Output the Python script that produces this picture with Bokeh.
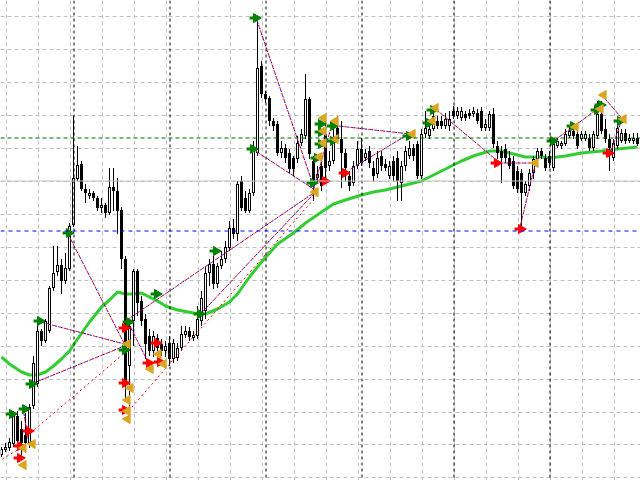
import numpy as np
from bokeh.plotting import figure
from bokeh.models import Range1d, Grid, FixedTicker, Span, ColumnDataSource
from bokeh.embed import file_html
from bokeh.resources import INLINE

# ---- hourly OHLC bars (index 0 = oldest bar) ----
opens = [1.1026, 1.1031, 1.1033, 1.1037, 1.1065, 1.1052, 1.1046, 1.1038, 1.1075, 1.1097,
         1.1150, 1.1140, 1.1150, 1.1193, 1.1209, 1.1216, 1.1200, 1.1212, 1.1256, 1.1302,
         1.1317, 1.1292, 1.1285, 1.1288, 1.1283, 1.1273, 1.1276, 1.1268, 1.1294, 1.1290,
         1.1271, 1.1222, 1.1115, 1.1160, 1.1210, 1.1180, 1.1162, 1.1145, 1.1130, 1.1143,
         1.1137, 1.1130, 1.1138, 1.1122, 1.1123, 1.1133, 1.1146, 1.1150, 1.1143, 1.1145,
         1.1160, 1.1170, 1.1208, 1.1217, 1.1197, 1.1215, 1.1222, 1.1233, 1.1253, 1.1247,
         1.1300, 1.1283, 1.1270, 1.1288, 1.1328, 1.1415, 1.1387, 1.1383, 1.1360, 1.1357,
         1.1328, 1.1333, 1.1328, 1.1323, 1.1322, 1.1338, 1.1345, 1.1382, 1.1320, 1.1303,
         1.1315, 1.1347, 1.1315, 1.1320, 1.1353, 1.1342, 1.1328, 1.1305, 1.1298, 1.1315,
         1.1332, 1.1323, 1.1330, 1.1313, 1.1307, 1.1325, 1.1317, 1.1305, 1.1320, 1.1323,
         1.1298, 1.1315, 1.1325, 1.1333, 1.1337, 1.1305, 1.1347, 1.1345, 1.1352, 1.1360,
         1.1360, 1.1355, 1.1355, 1.1370, 1.1365, 1.1363, 1.1367, 1.1368, 1.1367, 1.1368,
         1.1370, 1.1353, 1.1353, 1.1367, 1.1335, 1.1330, 1.1332, 1.1323, 1.1320, 1.1310,
         1.1308, 1.1288, 1.1295, 1.1308, 1.1322, 1.1330, 1.1323, 1.1325, 1.1313, 1.1335,
         1.1335, 1.1337, 1.1345, 1.1350, 1.1347, 1.1342, 1.1342, 1.1343, 1.1333, 1.1345,
         1.1367, 1.1352, 1.1342, 1.1323, 1.1335, 1.1340, 1.1348, 1.1340, 1.1340, 1.1343]
highs = [1.1034, 1.1038, 1.1043, 1.1070, 1.1070, 1.1060, 1.1068, 1.1077, 1.1125, 1.1160,
         1.1152, 1.1162, 1.1195, 1.1235, 1.1235, 1.1222, 1.1228, 1.1258, 1.1365, 1.1335,
         1.1320, 1.1297, 1.1292, 1.1290, 1.1285, 1.1283, 1.1278, 1.1313, 1.1313, 1.1303,
         1.1274, 1.1225, 1.1162, 1.1212, 1.1212, 1.1185, 1.1167, 1.1152, 1.1150, 1.1147,
         1.1142, 1.1140, 1.1145, 1.1142, 1.1138, 1.1155, 1.1155, 1.1154, 1.1150, 1.1175,
         1.1190, 1.1215, 1.1222, 1.1225, 1.1218, 1.1230, 1.1240, 1.1260, 1.1262, 1.1300,
         1.1305, 1.1290, 1.1292, 1.1340, 1.1465, 1.1420, 1.1390, 1.1385, 1.1363, 1.1360,
         1.1340, 1.1337, 1.1332, 1.1325, 1.1345, 1.1352, 1.1407, 1.1384, 1.1325, 1.1315,
         1.1322, 1.1360, 1.1330, 1.1352, 1.1365, 1.1360, 1.1332, 1.1310, 1.1320, 1.1340,
         1.1343, 1.1332, 1.1335, 1.1320, 1.1330, 1.1330, 1.1322, 1.1320, 1.1325, 1.1330,
         1.1320, 1.1335, 1.1340, 1.1337, 1.1340, 1.1352, 1.1370, 1.1358, 1.1372, 1.1365,
         1.1365, 1.1368, 1.1370, 1.1375, 1.1374, 1.1374, 1.1370, 1.1372, 1.1374, 1.1372,
         1.1374, 1.1362, 1.1370, 1.1373, 1.1340, 1.1335, 1.1337, 1.1330, 1.1325, 1.1315,
         1.1312, 1.1300, 1.1312, 1.1325, 1.1333, 1.1333, 1.1327, 1.1330, 1.1340, 1.1343,
         1.1340, 1.1352, 1.1354, 1.1353, 1.1352, 1.1350, 1.1350, 1.1347, 1.1350, 1.1380,
         1.1380, 1.1362, 1.1347, 1.1342, 1.1362, 1.1352, 1.1352, 1.1347, 1.1348, 1.1348]
lows = [1.1024, 1.1029, 1.1030, 1.1034, 1.1035, 1.1022, 1.1028, 1.1033, 1.1072, 1.1094,
        1.1135, 1.1138, 1.1148, 1.1190, 1.1205, 1.1187, 1.1197, 1.1210, 1.1254, 1.1300,
        1.1290, 1.1278, 1.1282, 1.1280, 1.1270, 1.1268, 1.1263, 1.1266, 1.1270, 1.1247,
        1.1212, 1.1080, 1.1060, 1.1135, 1.1165, 1.1155, 1.1122, 1.1125, 1.1124, 1.1128,
        1.1125, 1.1124, 1.1115, 1.1118, 1.1120, 1.1130, 1.1143, 1.1140, 1.1140, 1.1142,
        1.1155, 1.1162, 1.1195, 1.1192, 1.1193, 1.1212, 1.1218, 1.1230, 1.1242, 1.1240,
        1.1270, 1.1268, 1.1268, 1.1285, 1.1325, 1.1383, 1.1378, 1.1355, 1.1350, 1.1325,
        1.1323, 1.1318, 1.1308, 1.1305, 1.1318, 1.1335, 1.1342, 1.1322, 1.1280, 1.1298,
        1.1290, 1.1300, 1.1310, 1.1317, 1.1338, 1.1293, 1.1300, 1.1290, 1.1295, 1.1312,
        1.1315, 1.1320, 1.1313, 1.1300, 1.1303, 1.1310, 1.1310, 1.1302, 1.1300, 1.1280,
        1.1280, 1.1310, 1.1322, 1.1320, 1.1302, 1.1302, 1.1343, 1.1342, 1.1350, 1.1352,
        1.1352, 1.1352, 1.1350, 1.1362, 1.1362, 1.1360, 1.1360, 1.1362, 1.1364, 1.1357,
        1.1350, 1.1350, 1.1350, 1.1333, 1.1322, 1.1298, 1.1318, 1.1312, 1.1292, 1.1288,
        1.1255, 1.1285, 1.1290, 1.1302, 1.1320, 1.1322, 1.1310, 1.1313, 1.1310, 1.1333,
        1.1332, 1.1335, 1.1343, 1.1342, 1.1332, 1.1340, 1.1340, 1.1330, 1.1330, 1.1342,
        1.1347, 1.1338, 1.1310, 1.1320, 1.1332, 1.1338, 1.1337, 1.1338, 1.1337, 1.1335]
closes = [1.1032, 1.1034, 1.1039, 1.1065, 1.1040, 1.1038, 1.1038, 1.1074, 1.1118, 1.1150,
          1.1140, 1.1160, 1.1193, 1.1208, 1.1216, 1.1200, 1.1213, 1.1255, 1.1303, 1.1316,
          1.1292, 1.1288, 1.1288, 1.1283, 1.1273, 1.1276, 1.1268, 1.1294, 1.1290, 1.1270,
          1.1222, 1.1098, 1.1155, 1.1210, 1.1178, 1.1160, 1.1137, 1.1130, 1.1145, 1.1133,
          1.1130, 1.1135, 1.1122, 1.1138, 1.1133, 1.1147, 1.1150, 1.1144, 1.1146, 1.1162,
          1.1183, 1.1208, 1.1217, 1.1197, 1.1215, 1.1222, 1.1234, 1.1253, 1.1247, 1.1297,
          1.1273, 1.1270, 1.1288, 1.1333, 1.1413, 1.1387, 1.1382, 1.1360, 1.1355, 1.1328,
          1.1333, 1.1323, 1.1312, 1.1312, 1.1338, 1.1347, 1.1382, 1.1327, 1.1300, 1.1307,
          1.1295, 1.1313, 1.1320, 1.1342, 1.1342, 1.1328, 1.1313, 1.1295, 1.1315, 1.1332,
          1.1318, 1.1328, 1.1318, 1.1305, 1.1323, 1.1315, 1.1313, 1.1315, 1.1305, 1.1300,
          1.1315, 1.1330, 1.1333, 1.1325, 1.1305, 1.1347, 1.1353, 1.1352, 1.1365, 1.1355,
          1.1355, 1.1362, 1.1362, 1.1365, 1.1370, 1.1370, 1.1363, 1.1365, 1.1370, 1.1360,
          1.1353, 1.1357, 1.1367, 1.1337, 1.1328, 1.1323, 1.1323, 1.1315, 1.1295, 1.1292,
          1.1288, 1.1297, 1.1308, 1.1322, 1.1330, 1.1325, 1.1313, 1.1318, 1.1337, 1.1340,
          1.1338, 1.1347, 1.1350, 1.1345, 1.1335, 1.1347, 1.1347, 1.1333, 1.1347, 1.1367,
          1.1350, 1.1342, 1.1333, 1.1338, 1.1353, 1.1348, 1.1340, 1.1343, 1.1343, 1.1337]

# ---- moving average, sampled at bar indices ----
ma_bar = [0, 2, 5, 7, 9, 11, 13, 15, 17, 19, 22, 25, 27, 29, 31, 33, 35, 37, 39, 41,
          44, 48, 51, 54, 57, 59, 62, 65, 69, 73, 76, 80, 83, 86, 90, 93, 96, 99, 105, 110,
          115, 118, 122, 125, 128, 131, 135, 137, 141, 145, 150, 154, 159]
ma_price = [1.1124, 1.1117, 1.1109, 1.1106, 1.1106, 1.1109, 1.1115, 1.1122, 1.1130, 1.1142,
            1.1159, 1.1174, 1.1181, 1.1189, 1.1187, 1.1187, 1.1188, 1.1184, 1.1180, 1.1175,
            1.1171, 1.1168, 1.1167, 1.1172, 1.1179, 1.1187, 1.1204, 1.1219, 1.1237, 1.1248,
            1.1258, 1.1269, 1.1277, 1.1281, 1.1286, 1.1289, 1.1291, 1.1294, 1.1300, 1.1310,
            1.1320, 1.1325, 1.1330, 1.1330, 1.1327, 1.1324, 1.1324, 1.1323, 1.1325, 1.1328,
            1.1330, 1.1332, 1.1334]

# ---- signal arrows ----
buy_bar = [2.25, 5.5, 7.25, 9.25, 16.5, 30.5, 31.5, 38.5, 49.25, 53.25, 63.25, 62.5, 77.5,
           78.5, 79.5, 79.5, 79.5, 82.5, 82.5, 101.5, 106.5, 107.5, 137.5, 142.5, 148.5,
           149.5, 154.25]
buy_price = [1.1067, 1.1072, 1.1097, 1.1160, 1.1248, 1.1131, 1.1159, 1.1187, 1.1167, 1.1230,
             1.1463, 1.1332, 1.1298, 1.1323, 1.1337, 1.1349, 1.1357, 1.1355, 1.1340, 1.1345,
             1.1358, 1.1371, 1.1340, 1.1355, 1.1371, 1.1376, 1.1360]
sell_bar = [4.25, 4.25, 6.5, 30.5, 30.5, 30.5, 36.5, 38.5, 39.25, 80.5, 85.5, 123.5, 129.5, 151.5]
sell_price = [1.1035, 1.1023, 1.1050, 1.1153, 1.1098, 1.1071, 1.1118, 1.1138, 1.1119, 1.1300,
              1.1308, 1.1318, 1.1252, 1.1328]
exit_bar = [7.75, 5.5, 5.5, 31.5, 32.25, 31.5, 31.5, 31.5, 37.25, 39.25, 40.5, 78.5, 79.5,
            80.5, 80.5, 80.5, 83.5, 83.5, 102.75, 107.75, 108.5, 133.5, 143.5, 150.5, 149.75,
            155.5]
exit_price = [1.1037, 1.1033, 1.1016, 1.1137, 1.1093, 1.1081, 1.1070, 1.1062, 1.1112, 1.1127,
              1.1117, 1.1289, 1.1324, 1.1338, 1.1350, 1.1363, 1.1360, 1.1342, 1.1347, 1.1360,
              1.1373, 1.1318, 1.1354, 1.1386, 1.1372, 1.1362]

# ---- trade connection lines (two-tone) ----
link_x0 = [16.5, 9.75, 8.0, 31.5, 31.0, 49.75, 63.75, 63.5, 78.0, 84.25, 87.25, 108.5,
           124.0, 133.5, 138.0, 150.5, 154.75, 5.5]
link_y0 = [1.1248, 1.1159, 1.1098, 1.1160, 1.1160, 1.1167, 1.1462, 1.1330, 1.1292, 1.1355,
           1.1312, 1.1372, 1.1318, 1.1318, 1.1340, 1.1384, 1.1358, 1.1070]
link_x1 = [30.75, 30.75, 30.75, 36.75, 78.75, 78.75, 78.25, 78.0, 82.5, 102.25, 102.25,
           124.0, 133.5, 129.5, 149.0, 155.25, 152.25, 6.75]
link_y1 = [1.1137, 1.1137, 1.1135, 1.1118, 1.1290, 1.1290, 1.1292, 1.1292, 1.1355, 1.1347,
           1.1348, 1.1320, 1.1318, 1.1252, 1.1372, 1.1362, 1.1328, 1.1040]
# single-colour (red) connection lines
red_x0 = [7.25, 31.75, 0.25]
red_y0 = [1.1048, 1.1070, 1.1022]
red_x1 = [30.75, 78.75, 4.75]
red_y1 = [1.1128, 1.1285, 1.1033]

# ---- chart levels, grid and day separators ----
grid_bars = [1 + 8 * k for k in range(20)]
grid_prices = [1.1004, 1.1037, 1.1069, 1.1102, 1.1135, 1.1168, 1.1201, 1.1234, 1.1267,
               1.1300, 1.1333, 1.1366, 1.1399, 1.1432, 1.1465]
day_breaks = [18, 42, 66, 90, 113, 137]
bid_level = 1.1300
green_level = 1.1343
blue_level = 1.1250

PIP = 0.0001     # one price step, used for the body outline thickness
HALF_PX = 0.125  # half a screen pixel in bar units, keeps 1px vertical lines sharp

p = figure(width=640, height=480, output_backend="svg", toolbar_location=None,
           x_range=Range1d(-0.25, 159.75), y_range=Range1d(1.10005, 1.14805),
           x_axis_location=None, y_axis_location=None, min_border=0,
           background_fill_color="white", border_fill_color="white",
           outline_line_color=None)
p.grid.visible = False

p.add_layout(Grid(dimension=0, ticker=FixedTicker(ticks=[g + HALF_PX for g in grid_bars]),
                  grid_line_color="#c0c0c0", grid_line_dash="4 3"))
p.add_layout(Grid(dimension=1, ticker=FixedTicker(ticks=grid_prices),
                  grid_line_color="#c0c0c0", grid_line_dash="4 3"))

for b in day_breaks:
    p.add_layout(Span(location=b + HALF_PX, dimension="height", line_color="black",
                      line_dash="3 3", line_width=1))
p.add_layout(Span(location=bid_level, dimension="width", line_color="#c0c0c0", line_width=1))
p.add_layout(Span(location=green_level, dimension="width", line_color="#006400",
                  line_dash="4 3", line_width=1))
p.add_layout(Span(location=blue_level, dimension="width", line_color="#0000ff",
                  line_dash="4 4", line_width=1))

# moving average
p.line(ma_bar, ma_price, line_color="#32cd32", line_width=3)

# candlesticks drawn as filled rectangles
o = np.array(opens); c = np.array(closes)
idx = np.arange(len(opens))
top = np.maximum(o, c)
bot = np.minimum(o, c)
src = ColumnDataSource(dict(x=idx, high=highs, low=lows, top=top, bot=bot))
p.vbar(x="x", width=0.25, top="high", bottom="low", source=src,
       fill_color="black", line_color=None)
p.vbar(x="x", width=0.75, top="top", bottom="bot", source=src,
       fill_color="black", line_color=None)
bull = (c > o) & ((top - bot) > 2.5 * PIP)
wsrc = ColumnDataSource(dict(x=idx[bull], top=top[bull] - PIP, bot=bot[bull] + PIP))
p.vbar(x="x", width=0.25, top="top", bottom="bot", source=wsrc,
       fill_color="white", line_color=None)

# connection lines: red dashes interleaved with blue dashes
p.segment(link_x0, link_y0, link_x1, link_y1, line_color="#ff0000", line_width=1, line_dash="3 3")
p.segment(link_x0, link_y0, link_x1, link_y1, line_color="#0000ff", line_width=1,
          line_dash="2 4", line_dash_offset=3)
p.segment(red_x0, red_y0, red_x1, red_y1, line_color="#ff0000", line_width=1, line_dash="2 3")


def arrows(xs, ys, color):
    xs = np.array(xs)
    p.scatter(xs - 0.6, ys, marker="dash", size=5, line_width=3, line_color=color)
    p.scatter(xs + 0.4, ys, marker="triangle", angle=-np.pi / 2, size=9,
              fill_color=color, line_color=color, line_width=1)


arrows(buy_bar, buy_price, "#008000")
arrows(sell_bar, sell_price, "#ff0000")
p.scatter(exit_bar, exit_price, marker="triangle", angle=np.pi / 2, size=9,
          fill_color="#daa520", line_color="#daa520")

open("out.html", "w").write(file_html(p, INLINE))
